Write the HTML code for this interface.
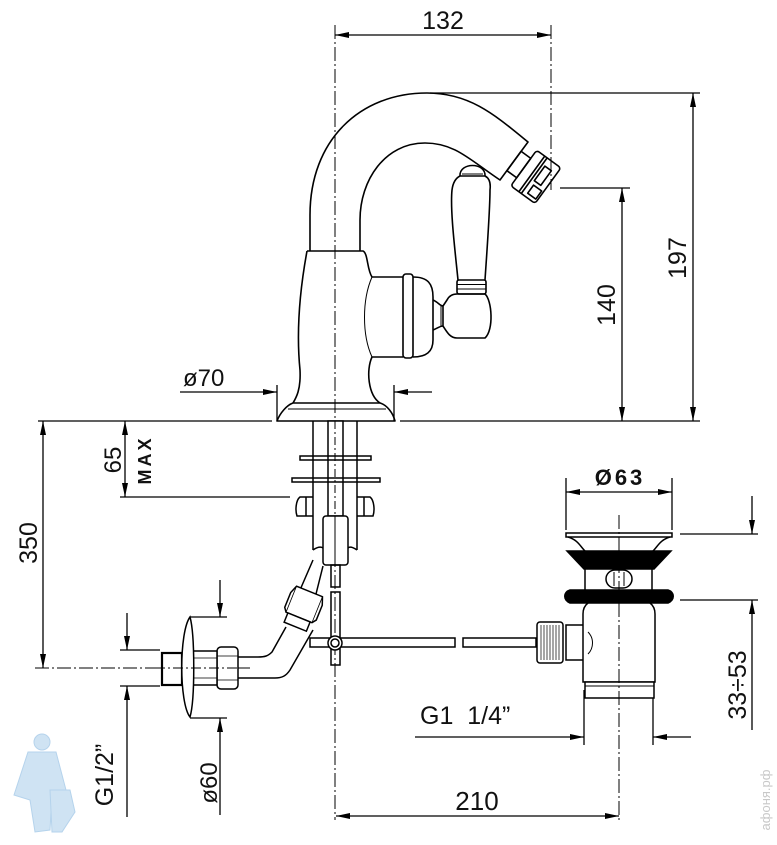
<!DOCTYPE html>
<html><head><meta charset="utf-8"><style>
html,body{margin:0;padding:0;background:#fff;}
svg{display:block;}
text{font-family:"Liberation Sans",sans-serif;fill:#111;}
</style></head><body>
<svg width="777" height="845" viewBox="0 0 777 845" xmlns="http://www.w3.org/2000/svg">
<defs>
<marker id="a" viewBox="0 0 14 6" refX="14" refY="3" markerWidth="14" markerHeight="6" markerUnits="userSpaceOnUse" orient="auto-start-reverse"><path d="M0,0 L14,3 L0,6 Z" fill="#000"/></marker>
</defs>
<g fill="none" stroke="#000" stroke-width="1.3">
<path d="M335,25 V820" stroke-dasharray="14,3,2,3" stroke-width="1"/>
<path d="M551,25 V190" stroke-dasharray="14,3,2,3" stroke-width="1"/>
<path d="M619,515 V820" stroke-dasharray="14,3,2,3" stroke-width="1"/>
<path d="M35,668 H250" stroke-dasharray="14,3,2,3" stroke-width="1"/>
<path d="M335,35 H551" marker-start="url(#a)" marker-end="url(#a)"/>
<path d="M430,93 H700" />
<path d="M693,93 V421" marker-start="url(#a)" marker-end="url(#a)"/>
<path d="M560,188 H630"/>
<path d="M622,188 V421" marker-start="url(#a)" marker-end="url(#a)"/>
<path d="M400,421 H700"/>
<path d="M38,421 H272"/>
<path d="M277,385 V421 M394,385 V421"/>
<path d="M180,392 H277" marker-end="url(#a)"/>
<path d="M432,392 H394" marker-end="url(#a)"/>
<path d="M43,421 V668" marker-start="url(#a)" marker-end="url(#a)"/>
<path d="M125,421 V497" marker-start="url(#a)" marker-end="url(#a)"/>
<path d="M120,497 H290"/>
<path d="M120,650 H160 M120,686 H160"/>
<path d="M127,613 V650" marker-end="url(#a)"/>
<path d="M127,817 V686" marker-end="url(#a)"/>
<path d="M190,617 H227 M190,718 H227"/>
<path d="M220,580 V617" marker-end="url(#a)"/>
<path d="M220,815 V718" marker-end="url(#a)"/>
<path d="M566,478 V530 M672,478 V530"/>
<path d="M566,492 H672" marker-start="url(#a)" marker-end="url(#a)"/>
<path d="M680,534 H758 M680,600 H758"/>
<path d="M752,496 V534" marker-end="url(#a)"/>
<path d="M752,730 V600" marker-end="url(#a)"/>
<path d="M584,690 V745 M653,690 V745"/>
<path d="M415,737 H584" marker-end="url(#a)"/>
<path d="M691,737 H653" marker-end="url(#a)"/>
<path d="M336,816 H619" marker-start="url(#a)" marker-end="url(#a)"/>
</g>

<g fill="none" stroke="#000" stroke-width="1.6" stroke-linejoin="round">
<path d="M310,251 L310,215 C310,140 360,93 427,93 C470,93 495,115 528,142 L500,180 C470,160 455,143 425,143 C385,143 360,180 360,220 L360,251"/>
<g transform="translate(514,161) rotate(36)">
<rect x="0" y="-12" width="12" height="24"/>
<rect x="12" y="-22" width="30" height="44" rx="3"/>
<path d="M22,-22 V22 M25,-22 V22"/>
<rect x="28" y="-14" width="8" height="18"/>
<rect x="30" y="8" width="10" height="10"/>
</g>
<path d="M307,251 L363,251 C368,253 367,270 372,277 L403,277 M403,357 L372,357 C366,370 368,395 380,403 M307,251 C298,300 297,340 300,370 C301,390 296,398 293,403"/>
<path d="M277,421 L395,421 C393,413 387,405 380,403 L293,403 C287,405 280,413 277,421 Z"/>
<path d="M288,409 H386" stroke-width="1"/>
<path d="M372,277 C362,300 362,335 372,357" stroke-width="1"/>
<rect x="403" y="274" width="10" height="84" rx="3"/>
<path d="M413,277 C428,277 433,284 433,297 L433,340 C433,352 426,357 413,357"/>
<path d="M433,300 C438,302 440,306 443,306 M433,330 C438,328 440,326 443,326"/>
<path d="M443,306 L447,300 C449,296 452,294 457,294 L485,294 C492,300 494,330 485,338 L457,338 C450,338 447,332 443,326 Z"/>
<path d="M441,306 V326" stroke-width="1"/>
<rect x="457" y="280" width="29" height="14" rx="2"/>
<path d="M457,284.5 H486 M457,289 H486" stroke-width="1"/>
<path d="M458,280 C455,250 450,210 452,190 C453,182 456,178 460,176 L485,176 C489,178 491,182 490,190 C490,210 487,250 485,280"/>
<path d="M460,176 C459,162 486,162 485,176"/>
<path d="M462,174 H483" stroke-width="1"/>
</g>

<g fill="none" stroke="#000" stroke-width="1.5">
<path d="M313,421 V550 M357,421 V550"/>
<rect x="328" y="421" width="15" height="95" fill="#fff"/>
<path d="M335,421 V516" stroke-dasharray="8,3,2,3" stroke-width="1"/>
<rect x="300" y="456" width="71" height="4"/>
<rect x="292" y="478" width="88" height="4"/>
<path d="M313,497 H300 C296,500 295,510 297,516 H313 M306,497 V516"/>
<path d="M357,497 H370 C374,500 375,510 373,516 H357 M364,497 V516"/>
<rect x="323" y="516" width="25" height="49" rx="3" fill="#fff"/>
<path d="M335,516 V565" stroke-width="1"/>
<rect x="331" y="565" width="9" height="22"/>
<rect x="331" y="592" width="9" height="73"/>
<rect x="310" y="638" width="145" height="9" fill="#fff"/>
<circle cx="335" cy="643" r="7" fill="#fff"/>
<circle cx="335" cy="643" r="4"/>
<path d="M313,550 C316,548 320,546 323,548 M357,550 C354,548 350,546 348,548"/>
<path d="M313,560 L300,590 M323,566 L316,594"/>
<g transform="translate(302,610) rotate(22)">
<path d="M-14,-20 L14,-20 L17,-12 L17,4 L14,8 L-14,8 L-17,4 L-17,-12 Z" fill="#fff"/>
<path d="M-14,-20 V8 M14,-20 V8" stroke-width="0.8"/>
<rect x="-12" y="8" width="24" height="10" fill="#fff"/>
</g>
<path d="M286,627 L272,652 C268,656 265,657 258,657 H237 M313,630 L290,670 C286,676 282,678 275,678 H237"/>
<rect x="217" y="647" width="21" height="42" rx="4" fill="#fff"/>
<path d="M217,656 H238 M217,680 H238" stroke-width="0.8"/>
<rect x="193" y="651" width="24" height="34" fill="#fff"/>
<path d="M193,658 H217 M193,678 H217" stroke-width="0.8"/>
<rect x="162" y="653" width="20" height="32" stroke-width="2.2" fill="#fff"/>
<path d="M190,617 C179,632 179,703 190,717 C195,700 195,635 190,617 Z" fill="#fff"/>
<path d="M155,668 H250" stroke-dasharray="10,3,2,3" stroke-width="1"/>
<rect x="463" y="638" width="73" height="9" fill="#fff"/>
</g>

<g fill="none" stroke="#000" stroke-width="1.5">
<rect x="566" y="533" width="106" height="4" fill="#fff"/>
<path d="M568,537 C578,540 580,546 585,551 M670,537 C660,540 658,546 653,551"/>
<path d="M567,551 L671,551 L654,569 L584,569 Z" fill="#000"/>
<path d="M585,569 V590 M652,569 V590"/>
<rect x="606" y="570" width="26" height="18" rx="9" fill="#fff"/>
<path d="M614,572 V586 M624,572 V586" stroke-width="1"/>
<path d="M570,590 L668,590 C675,592 675,600 668,603 L570,603 C563,600 563,592 570,590 Z" fill="#000"/>
<path d="M588,603 C584,606 583,610 583,614 V682 H655 V614 C655,610 654,606 650,603"/>
<path d="M583,625 H566 V660 H583"/>
<path d="M588,632 C594,638 594,648 588,654" stroke-width="1"/>
<rect x="537" y="622" width="26" height="41" rx="3" fill="#fff"/>
<path d="M541,625 V660 M544,625 V660 M547,625 V660 M550,625 V660 M553,625 V660 M556,625 V660 M559,625 V660" stroke-width="0.7"/>
<rect x="585" y="682" width="69" height="16" fill="#fff"/>
<path d="M585,686 H654" stroke-width="1"/>
<path d="M619,515 V820" stroke-dasharray="14,3,2,3" stroke-width="1"/>
</g>

<text x="443" y="29" font-size="25" text-anchor="middle">132</text>
<text transform="translate(686,258) rotate(-90)" font-size="25" text-anchor="middle">197</text>
<text transform="translate(615,305) rotate(-90)" font-size="25" text-anchor="middle">140</text>
<text x="183" y="386" font-size="24">ø70</text>
<text transform="translate(121,460) rotate(-90)" font-size="24" text-anchor="middle">65</text>
<text transform="translate(151,460) rotate(-90)" font-size="18" font-weight="bold" letter-spacing="3" text-anchor="middle">MAX</text>
<text transform="translate(37,543) rotate(-90)" font-size="25" text-anchor="middle">350</text>
<text transform="translate(113,775) rotate(-90)" font-size="25" text-anchor="middle">G1/2”</text>
<text transform="translate(217,783) rotate(-90)" font-size="24" text-anchor="middle">ø60</text>
<text x="620" y="485" font-size="22" font-weight="bold" letter-spacing="3" text-anchor="middle">Ø63</text>
<text x="420" y="724" font-size="25" xml:space="preserve">G1  1/4”</text>
<text transform="translate(746,685) rotate(-90)" font-size="25" text-anchor="middle">33÷53</text>
<text x="477" y="810" font-size="26" text-anchor="middle">210</text>
<text transform="translate(770,800) rotate(-90)" font-size="13" style="fill:#c8c8c8" text-anchor="middle">афоня.рф</text>
<g fill="#cfe3f3" stroke="#b5d3ec" stroke-width="1">
<circle cx="42" cy="742" r="8"/>
<path d="M28,752 L56,752 L66,790 L52,795 L50,830 L35,832 L30,800 L14,795 Z"/>
<path d="M50,790 L70,790 L75,812 L62,832 L52,832 Z"/>
</g>
</svg>
</body></html>
